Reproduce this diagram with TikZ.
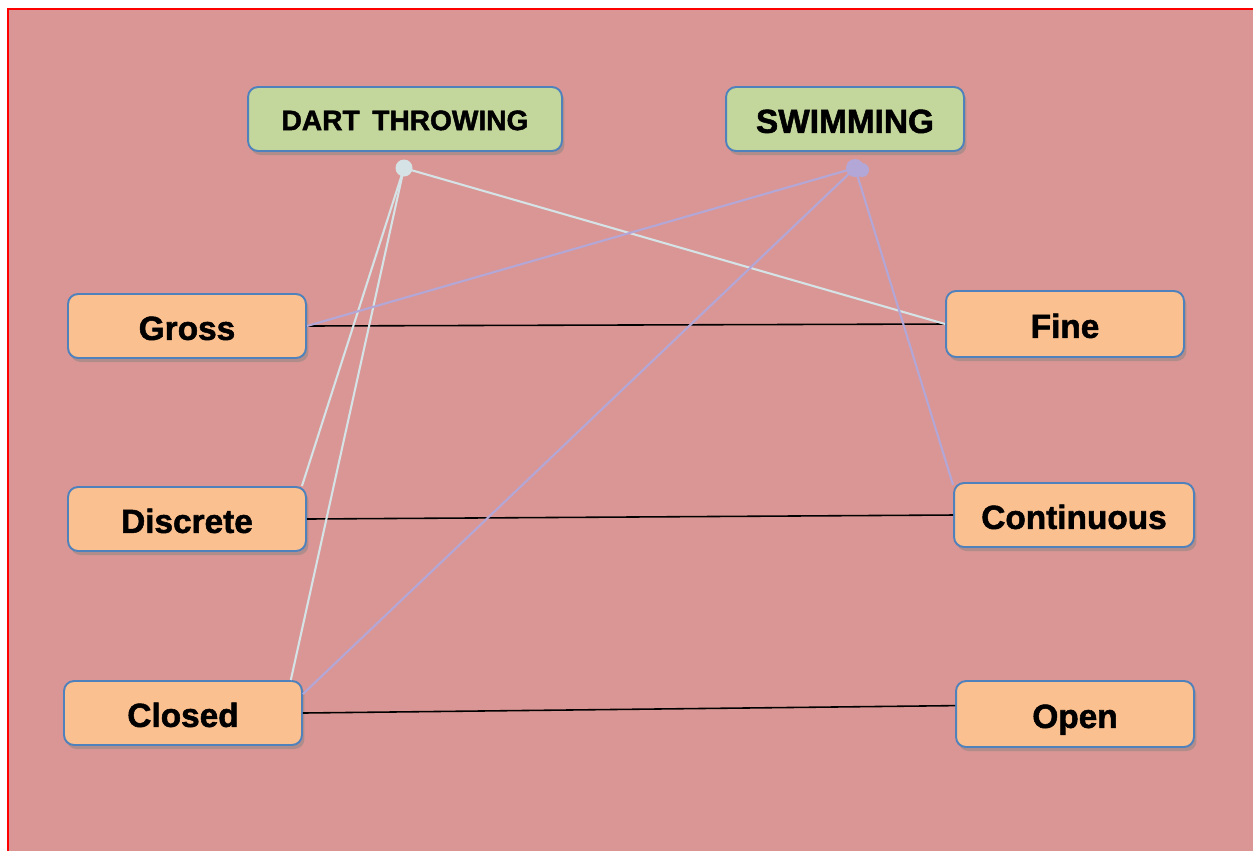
\documentclass[tikz,border=0pt]{standalone}
\usepackage{fontspec}
\setmainfont{Liberation Sans}
\newfontfamily\heavyfont{Liberation Sans Bold}[FakeBold=1.6]
\usetikzlibrary{shadows,calc}

\def\myboxw{4.76cm}
\def\myboxh{1.28cm}
\definecolor{mybg}{HTML}{D99694}
\definecolor{mygreen}{HTML}{C3D69B}
\definecolor{myorange}{HTML}{FAC090}
\definecolor{myblue}{HTML}{4F81BD}
\definecolor{mydart}{HTML}{D5E2E6}
\definecolor{myswim}{HTML}{B3A7D8}

\tikzset{
  skillbox/.style = {draw = myblue, line width = 1.1pt, rounded corners = 0.2cm,
    minimum width = \myboxw, minimum height = \myboxh,
    font = \heavyfont\fontsize{19}{21}\selectfont,
    text height = 16pt, text depth = 0.2pt,
    drop shadow = {shadow xshift = 0.05cm, shadow yshift = -0.08cm, opacity = 0.45}},
  taskbox/.style = {skillbox, fill = mygreen},
  typebox/.style = {skillbox, fill = myorange},
  dartline/.style = {mydart, line width = 1.2pt},
  swimline/.style = {myswim, line width = 1.2pt},
  pairline/.style = {black, line width = 0.9pt}
}

\begin{document}
\begin{tikzpicture}[x = 0.02cm, y = -0.02cm]
\clip (0,0) rectangle (1253,850);
\draw [red, line width = 1.3pt, fill = mybg] (8,9) rectangle (1280,880); % frame

% the two tasks
\node [taskbox, minimum width = 6.28cm, font = \heavyfont\fontsize{16}{18}\selectfont,
       text height = 12.8pt] (dart) at (405,119) {DART\hspace{0.45em}THROWING};
\node [taskbox] (swim) at (845,119) {SWIMMING};

% the skill types
\node [typebox] (gross) at (187,326) {Gross};
\node [typebox, minimum height = 1.32cm] (fine) at (1065,324) {Fine};
\node [typebox] (discrete) at (187,519) {Discrete};
\node [typebox, minimum width = 4.8cm] (continuous) at (1074,515) {Continuous};
\node [typebox] (closed) at (183,713) {Closed};
\node [typebox, minimum height = 1.32cm] (open) at (1075,714) {Open};

\coordinate (dartpt) at (404,168);
\coordinate (swimpt) at (855,168);

% opposite pairs
\draw [pairline] (gross.east) -- (fine.west);
\draw [pairline] (discrete.east) -- (continuous.west);
\draw [pairline] (closed.east) -- (open.176);

% dart throwing
\draw [dartline] (dartpt) -- (fine.west);
\draw [dartline] (dartpt) -- (discrete.16);
\draw [dartline] (dartpt) -- (closed.17);
\fill [mydart] (dartpt) circle (0.17cm);

% swimming
\draw [swimline] (swimpt) -- (gross.east);
\draw [swimline] (swimpt) -- (closed.9);
\draw [swimline] (swimpt) -- (continuous.166);
\fill [myswim] (swimpt) circle (0.18cm);
\fill [myswim] ($(swimpt)+(7,2)$) circle (0.14cm);
\end{tikzpicture}
\end{document}
